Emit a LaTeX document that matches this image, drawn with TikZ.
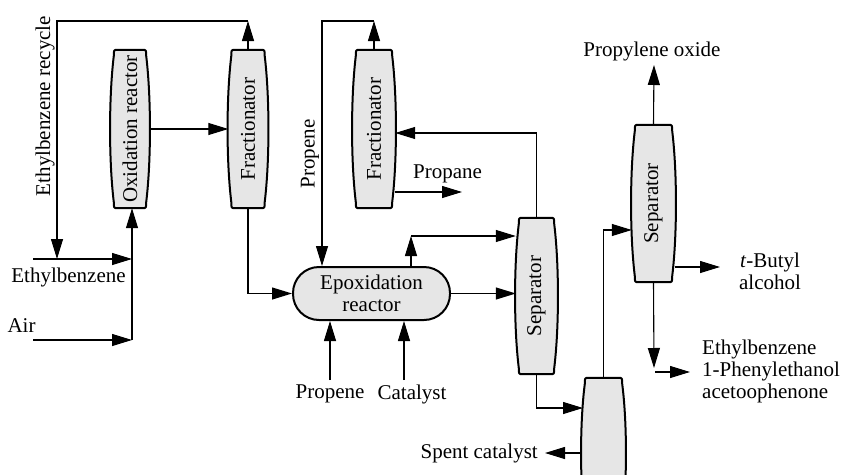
\documentclass[tikz,border=0pt]{standalone}
\usepackage{fontspec}
\setmainfont{Liberation Serif}
\usetikzlibrary{arrows.meta,calc}
\definecolor{vfill}{RGB}{230,230,230}
\newcommand\barrel[1]{%
\path[vessel]
 ($(#1.north west)+(7pt,0)$) -- ($(#1.north east)+(-7pt,0)$)
 .. controls ($(#1.north east)+(-3pt,0)$) .. ($(#1.north east)+(-3pt,-6pt)$)
 .. controls ($(#1.north east)!0.3!(#1.south east)+(2pt,0)$) and ($(#1.north east)!0.7!(#1.south east)+(2pt,0)$) .. ($(#1.south east)+(-3pt,6pt)$)
 .. controls ($(#1.south east)+(-3pt,0)$) .. ($(#1.south east)+(-7pt,0)$)
 -- ($(#1.south west)+(7pt,0)$)
 .. controls ($(#1.south west)+(3pt,0)$) .. ($(#1.south west)+(3pt,6pt)$)
 .. controls ($(#1.north west)!0.7!(#1.south west)+(-2pt,0)$) and ($(#1.north west)!0.3!(#1.south west)+(-2pt,0)$) .. ($(#1.north west)+(3pt,-6pt)$)
 .. controls ($(#1.north west)+(3pt,0)$) .. ($(#1.north west)+(7pt,0)$) -- cycle;}
\begin{document}
\begin{tikzpicture}[x=1pt,y=-1pt,
  font=\fontsize{21}{22}\selectfont,
  vessel/.style={draw,line width=2pt,fill=vfill,line join=round},
  vnode/.style={inner sep=0pt,minimum height=158pt},
  lbl/.style={inner sep=0pt},
  arr/.style={line width=1.1pt,-{Triangle[length=20pt,width=12pt]}},
  ln/.style={line width=1.1pt}]
\useasboundingbox (0,0) rectangle (843,474);
\clip (0,0) rectangle (843,474);

% vessels
\node[vnode,minimum width=38pt] (ox) at (130,129) {};
\barrel{ox}
\node[rotate=90,lbl] (oxt) at (ox) {Oxidation reactor};
\node[vnode,minimum width=39pt] (fr1) at (248,129) {};
\barrel{fr1}
\node[rotate=90,lbl] (fr1t) at (fr1) {Fractionator};
\node[vnode,minimum width=42pt] (fr2) at (374,129) {};
\barrel{fr2}
\node[rotate=90,lbl] (fr2t) at (fr2) {Fractionator};
\node[vnode,minimum width=41pt,minimum height=156pt] (sep1) at (536.5,296) {};
\barrel{sep1}
\node[rotate=90,lbl] (sep1t) at (sep1) {Separator};
\node[vnode,minimum width=43pt,minimum height=157pt] (sep2) at (653.5,203.5) {};
\barrel{sep2}
\node[rotate=90,lbl] (sep2t) at (sep2) {Separator};
\node[vnode,minimum width=43pt,minimum height=150pt] (sep3) at (603.5,453) {};
\barrel{sep3}
\node[draw,line width=2pt,fill=vfill,rounded corners=26pt,minimum width=157pt,minimum height=53pt,align=center,inner sep=0pt] (epo) at (371.5,293.5) {Epoxidation\\reactor};

% coordinates
\coordinate (rt) at (248,21);
\coordinate (rl) at (57,21);
\coordinate (rd) at (57,259);
\coordinate (eb0) at (33,259);
\coordinate (eb1) at (132,259);
\coordinate (air0) at (33,340);
\coordinate (air1) at (132,340);
\coordinate (pt2) at (374,21);
\coordinate (pl) at (322,21);
\coordinate (s1t) at (537,133);
\coordinate (pp) at (462,192);
\coordinate (ec) at (411,236);
\coordinate (pb) at (330,380);
\coordinate (cb) at (404,380);
\coordinate (s3in) at (583,408);
\coordinate (sc) at (545,453);
\coordinate (s2in) at (603,230);
\coordinate (po) at (654,65);
\coordinate (tb) at (720,267);
\coordinate (eb2) at (654,368);
\coordinate (ebs) at (655,372);
\coordinate (ebe) at (690,372);

% connectors
\draw[arr] (fr1.north) -- (rt);
\draw[arr] (rt) -- (rl) -- (rd);
\draw[arr] (eb0) -- (eb1);
\draw[arr] (air0) -- (air1);
\draw[arr] (air1) -- (air1 |- ox.south);
\draw[arr] (ox.east) -- (fr1.west);
\draw[arr] (fr1.south) |- (epo.west);
\draw[arr] (fr2.north) -- (pt2);
\draw[arr] (pt2) -- (pl) -- (pl |- epo.north);
\draw[arr] (sep1.north) |- (fr2.east |- s1t);
\draw[arr] (fr2.east |- pp) -- (pp);
\draw[arr] (ec |- epo.north) -- (ec);
\draw[arr] (ec) -- (sep1.west |- ec);
\draw[arr] (epo.east) -- (sep1.west |- epo.east);
\draw[arr] (pb) -- (pb |- epo.south);
\draw[arr] (cb) -- (cb |- epo.south);
\draw[arr] (sep1.south) |- (s3in);
\draw[arr] (sep3.west |- sc) -- (sc);
\draw[arr] (sep3.north) |- (sep2.west |- s2in);
\draw[arr] (sep2.north) -- (po);
\draw[arr] (sep2.east |- tb) -- (tb);
\draw[arr] (sep2.south) -- (eb2);
\draw[arr] (ebs) -- (ebe);

% labels
\node[lbl,rotate=90] (lrec) at (45,106) {Ethylbenzene recycle};
\node[lbl] (leb) at (68.5,277) {Ethylbenzene};
\node[lbl] (lair) at (21.5,326) {Air};
\node[lbl,rotate=90] (lprop) at (310,154) {Propene};
\node[lbl] (lpropane) at (447.5,174) {Propane};
\node[lbl] (lpb) at (330,394) {Propene};
\node[lbl] (lcat) at (412,394) {Catalyst};
\node[lbl,anchor=east] (lsc) at (538,453) {Spent catalyst};
\node[lbl] (lpo) at (652,51.5) {Propylene oxide};
\node[lbl,align=center] (ltb) at (770,271) {\textit{t}-Butyl\\alcohol};
\node[lbl,anchor=west,align=left] (lebx) at (702,371) {Ethylbenzene\\1-Phenylethanol\\acetoophenone};
\end{tikzpicture}
\end{document}
